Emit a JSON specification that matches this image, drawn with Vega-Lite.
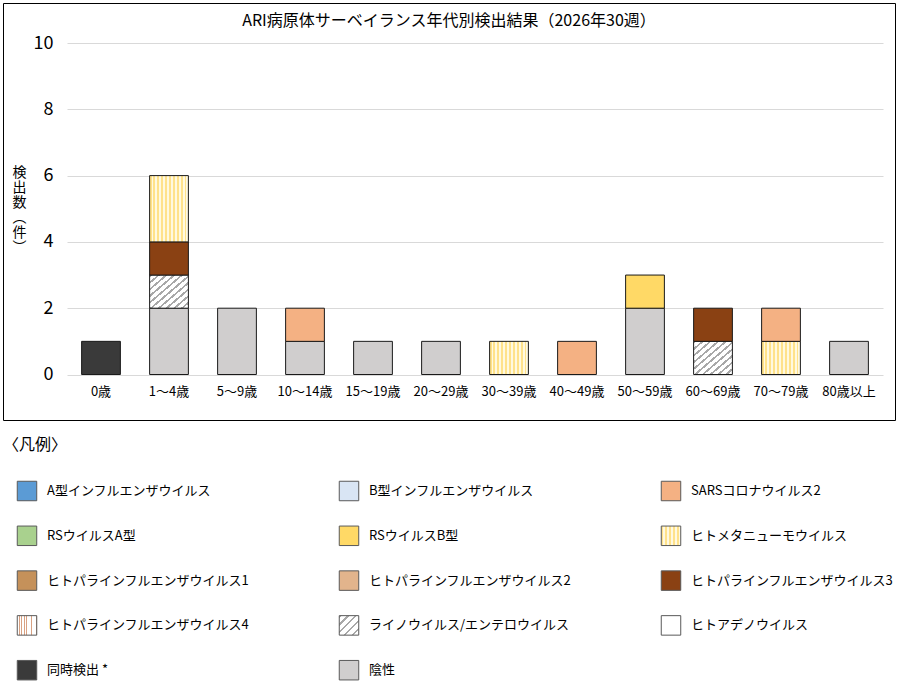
{
  "$schema": "https://vega.github.io/schema/vega-lite/v6.json",
  "padding": {"left": 2, "top": 2, "right": 3, "bottom": 0},
  "background": "white",
  "spacing": 16,
  "config": {
    "font": "Noto Sans CJK JP",
    "view": {"stroke": null}
  },
  "vconcat": [
    {
      "width": 892,
      "height": 417,
      "view": {"stroke": "#000", "strokeWidth": 1},
      "title": {
        "text": "ARI病原体サーベイランス年代別検出結果（2026年30週）",
        "fontSize": 16,
        "fontWeight": "normal",
        "color": "#000",
        "anchor": "middle",
        "frame": "group",
        "offset": -26
      },
      "data": {
        "values": [
          {"age": "0歳", "virus": "同時検出", "n": 1},
          {"age": "1～4歳", "virus": "陰性", "n": 2},
          {"age": "1～4歳", "virus": "ライノウイルス/エンテロウイルス", "n": 1},
          {"age": "1～4歳", "virus": "ヒトパラインフルエンザウイルス3", "n": 1},
          {"age": "1～4歳", "virus": "ヒトメタニューモウイルス", "n": 2},
          {"age": "5～9歳", "virus": "陰性", "n": 2},
          {"age": "10～14歳", "virus": "陰性", "n": 1},
          {"age": "10～14歳", "virus": "SARSコロナウイルス2", "n": 1},
          {"age": "15～19歳", "virus": "陰性", "n": 1},
          {"age": "20～29歳", "virus": "陰性", "n": 1},
          {"age": "30～39歳", "virus": "ヒトメタニューモウイルス", "n": 1},
          {"age": "40～49歳", "virus": "SARSコロナウイルス2", "n": 1},
          {"age": "50～59歳", "virus": "陰性", "n": 2},
          {"age": "50～59歳", "virus": "RSウイルスB型", "n": 1},
          {"age": "60～69歳", "virus": "ライノウイルス/エンテロウイルス", "n": 1},
          {"age": "60～69歳", "virus": "ヒトパラインフルエンザウイルス3", "n": 1},
          {"age": "70～79歳", "virus": "ヒトメタニューモウイルス", "n": 1},
          {"age": "70～79歳", "virus": "SARSコロナウイルス2", "n": 1},
          {"age": "80歳以上", "virus": "陰性", "n": 1}
        ]
      },
      "transform": [
        {
          "calculate": "indexof(['A型インフルエンザウイルス','B型インフルエンザウイルス','SARSコロナウイルス2','RSウイルスA型','RSウイルスB型','ヒトメタニューモウイルス','ヒトパラインフルエンザウイルス1','ヒトパラインフルエンザウイルス2','ヒトパラインフルエンザウイルス3','ヒトパラインフルエンザウイルス4','ライノウイルス/エンテロウイルス','ヒトアデノウイルス','同時検出','陰性'], datum.virus)",
          "as": "o"
        }
      ],
      "mark": {"type": "bar", "stroke": "#1a1a1a", "strokeWidth": 1},
      "encoding": {
        "x": {
          "field": "age",
          "type": "nominal",
          "sort": ["0歳", "1～4歳", "5～9歳", "10～14歳", "15～19歳", "20～29歳", "30～39歳", "40～49歳", "50～59歳", "60～69歳", "70～79歳", "80歳以上"],
          "scale": {"range": [64, 880], "paddingInner": 0.43, "paddingOuter": 0.215},
          "axis": {
            "title": null,
            "orient": "bottom",
            "offset": -45.5,
            "domain": false,
            "ticks": false,
            "tickSize": 0,
            "labelAngle": 0,
            "labelPadding": 11,
            "labelFontSize": 13,
            "labelColor": "#000"
          }
        },
        "y": {
          "field": "n",
          "type": "quantitative",
          "scale": {"domain": [0, 10], "range": [371.5, 40], "nice": false},
          "axis": {
            "values": [0, 2, 4, 6, 8, 10],
            "offset": -62,
            "domain": false,
            "ticks": false,
            "tickSize": 0,
            "labelPadding": 12,
            "labelFontSize": 18,
            "labelColor": "#000",
            "gridColor": "#d9d9d9",
            "gridWidth": 1,
            "title": ["検", "出", "数", "︵", "件", "︶"],
            "titleAngle": 0,
            "titleAlign": "center",
            "titleBaseline": "top",
            "titleX": -46,
            "titleY": 162,
            "titleFontSize": 14,
            "titleFontWeight": "normal",
            "titleLineHeight": 15,
            "titleColor": "#000"
          }
        },
        "color": {
          "field": "virus",
          "type": "nominal",
          "legend": null,
          "condition": [
            {
              "test": "datum.virus === 'ヒトメタニューモウイルス'",
              "value": {
                "gradient": "linear", "x1": 0, "y1": 0, "x2": 1, "y2": 0,
                "stops": [
                  {"offset": 0, "color": "#ffe28a"}, {"offset": 0.05, "color": "#ffe28a"}, {"offset": 0.05, "color": "#fff9e0"}, {"offset": 0.1, "color": "#fff9e0"},
                  {"offset": 0.1, "color": "#ffe28a"}, {"offset": 0.15, "color": "#ffe28a"}, {"offset": 0.15, "color": "#fff9e0"}, {"offset": 0.2, "color": "#fff9e0"},
                  {"offset": 0.2, "color": "#ffe28a"}, {"offset": 0.25, "color": "#ffe28a"}, {"offset": 0.25, "color": "#fff9e0"}, {"offset": 0.3, "color": "#fff9e0"},
                  {"offset": 0.3, "color": "#ffe28a"}, {"offset": 0.35, "color": "#ffe28a"}, {"offset": 0.35, "color": "#fff9e0"}, {"offset": 0.4, "color": "#fff9e0"},
                  {"offset": 0.4, "color": "#ffe28a"}, {"offset": 0.45, "color": "#ffe28a"}, {"offset": 0.45, "color": "#fff9e0"}, {"offset": 0.5, "color": "#fff9e0"},
                  {"offset": 0.5, "color": "#ffe28a"}, {"offset": 0.55, "color": "#ffe28a"}, {"offset": 0.55, "color": "#fff9e0"}, {"offset": 0.6, "color": "#fff9e0"},
                  {"offset": 0.6, "color": "#ffe28a"}, {"offset": 0.65, "color": "#ffe28a"}, {"offset": 0.65, "color": "#fff9e0"}, {"offset": 0.7, "color": "#fff9e0"},
                  {"offset": 0.7, "color": "#ffe28a"}, {"offset": 0.75, "color": "#ffe28a"}, {"offset": 0.75, "color": "#fff9e0"}, {"offset": 0.8, "color": "#fff9e0"},
                  {"offset": 0.8, "color": "#ffe28a"}, {"offset": 0.85, "color": "#ffe28a"}, {"offset": 0.85, "color": "#fff9e0"}, {"offset": 0.9, "color": "#fff9e0"},
                  {"offset": 0.9, "color": "#ffe28a"}, {"offset": 0.95, "color": "#ffe28a"}, {"offset": 0.95, "color": "#fff9e0"}, {"offset": 1, "color": "#fff9e0"}
                ]
              }
            },
            {
              "test": "datum.virus === 'ライノウイルス/エンテロウイルス'",
              "value": {
                "gradient": "linear", "x1": 0, "y1": 0, "x2": 1, "y2": 1,
                "stops": [
                  {"offset": 0, "color": "#a8a8a8"}, {"offset": 0.035, "color": "#a8a8a8"}, {"offset": 0.035, "color": "#ffffff"}, {"offset": 0.1, "color": "#ffffff"},
                  {"offset": 0.1, "color": "#a8a8a8"}, {"offset": 0.135, "color": "#a8a8a8"}, {"offset": 0.135, "color": "#ffffff"}, {"offset": 0.2, "color": "#ffffff"},
                  {"offset": 0.2, "color": "#a8a8a8"}, {"offset": 0.235, "color": "#a8a8a8"}, {"offset": 0.235, "color": "#ffffff"}, {"offset": 0.3, "color": "#ffffff"},
                  {"offset": 0.3, "color": "#a8a8a8"}, {"offset": 0.335, "color": "#a8a8a8"}, {"offset": 0.335, "color": "#ffffff"}, {"offset": 0.4, "color": "#ffffff"},
                  {"offset": 0.4, "color": "#a8a8a8"}, {"offset": 0.435, "color": "#a8a8a8"}, {"offset": 0.435, "color": "#ffffff"}, {"offset": 0.5, "color": "#ffffff"},
                  {"offset": 0.5, "color": "#a8a8a8"}, {"offset": 0.535, "color": "#a8a8a8"}, {"offset": 0.535, "color": "#ffffff"}, {"offset": 0.6, "color": "#ffffff"},
                  {"offset": 0.6, "color": "#a8a8a8"}, {"offset": 0.635, "color": "#a8a8a8"}, {"offset": 0.635, "color": "#ffffff"}, {"offset": 0.7, "color": "#ffffff"},
                  {"offset": 0.7, "color": "#a8a8a8"}, {"offset": 0.735, "color": "#a8a8a8"}, {"offset": 0.735, "color": "#ffffff"}, {"offset": 0.8, "color": "#ffffff"},
                  {"offset": 0.8, "color": "#a8a8a8"}, {"offset": 0.835, "color": "#a8a8a8"}, {"offset": 0.835, "color": "#ffffff"}, {"offset": 0.9, "color": "#ffffff"},
                  {"offset": 0.9, "color": "#a8a8a8"}, {"offset": 0.935, "color": "#a8a8a8"}, {"offset": 0.935, "color": "#ffffff"}, {"offset": 1, "color": "#ffffff"}
                ]
              }
            }
          ],
          "scale": {
            "domain": ["A型インフルエンザウイルス", "B型インフルエンザウイルス", "SARSコロナウイルス2", "RSウイルスA型", "RSウイルスB型", "ヒトメタニューモウイルス", "ヒトパラインフルエンザウイルス1", "ヒトパラインフルエンザウイルス2", "ヒトパラインフルエンザウイルス3", "ヒトパラインフルエンザウイルス4", "ライノウイルス/エンテロウイルス", "ヒトアデノウイルス", "同時検出", "陰性"],
            "range": ["#5b9bd5", "#d9e5f4", "#f4b183", "#a9d18e", "#ffd966", "#fff0b3", "#c5915a", "#e2b48c", "#8a4113", "#f1dccd", "#e4e4e4", "#ffffff", "#3a3a3a", "#d0cece"]
          }
        },
        "order": {"field": "o", "sort": "descending"}
      }
    },
    {
      "width": 892,
      "height": 227,
      "view": {"stroke": null},
      "title": {
        "text": "〈凡例〉",
        "fontSize": 16,
        "fontWeight": "normal",
        "color": "#000",
        "anchor": "start",
        "frame": "group",
        "offset": 4
      },
      "data": {
        "values": [
          {"virus": "A型インフルエンザウイルス"},
          {"virus": "B型インフルエンザウイルス"},
          {"virus": "SARSコロナウイルス2"},
          {"virus": "RSウイルスA型"},
          {"virus": "RSウイルスB型"},
          {"virus": "ヒトメタニューモウイルス"},
          {"virus": "ヒトパラインフルエンザウイルス1"},
          {"virus": "ヒトパラインフルエンザウイルス2"},
          {"virus": "ヒトパラインフルエンザウイルス3"},
          {"virus": "ヒトパラインフルエンザウイルス4"},
          {"virus": "ライノウイルス/エンテロウイルス"},
          {"virus": "ヒトアデノウイルス"},
          {"virus": "同時検出"},
          {"virus": "陰性"}
        ]
      },
      "transform": [
        {"window": [{"op": "row_number", "as": "i"}]},
        {"calculate": "(datum.i - 1) % 3", "as": "c"},
        {"calculate": "floor((datum.i - 1) / 3)", "as": "r"},
        {"calculate": "datum.virus === '同時検出' ? '同時検出 *' : datum.virus", "as": "lbl"}
      ],
      "encoding": {
        "x": {"field": "c", "type": "quantitative", "scale": {"domain": [0, 2], "range": [24, 668]}, "axis": null},
        "y": {"field": "r", "type": "quantitative", "scale": {"domain": [0, 4], "range": [34, 213.2]}, "axis": null}
      },
      "layer": [
        {
          "mark": {"type": "square", "size": 380, "filled": true, "opacity": 1, "stroke": "#595959", "strokeWidth": 1},
          "encoding": {
            "color": {
              "field": "virus",
              "type": "nominal",
              "legend": null,
              "condition": [
                {
                  "test": "datum.virus === 'ヒトメタニューモウイルス'",
                  "value": {
                    "gradient": "linear", "x1": 0, "y1": 0, "x2": 1, "y2": 0,
                    "stops": [
                      {"offset": 0, "color": "#ffe28a"}, {"offset": 0.1, "color": "#ffe28a"}, {"offset": 0.1, "color": "#fff9e0"}, {"offset": 0.2, "color": "#fff9e0"},
                      {"offset": 0.2, "color": "#ffe28a"}, {"offset": 0.3, "color": "#ffe28a"}, {"offset": 0.3, "color": "#fff9e0"}, {"offset": 0.4, "color": "#fff9e0"},
                      {"offset": 0.4, "color": "#ffe28a"}, {"offset": 0.5, "color": "#ffe28a"}, {"offset": 0.5, "color": "#fff9e0"}, {"offset": 0.6, "color": "#fff9e0"},
                      {"offset": 0.6, "color": "#ffe28a"}, {"offset": 0.7, "color": "#ffe28a"}, {"offset": 0.7, "color": "#fff9e0"}, {"offset": 0.8, "color": "#fff9e0"},
                      {"offset": 0.8, "color": "#ffe28a"}, {"offset": 0.9, "color": "#ffe28a"}, {"offset": 0.9, "color": "#fff9e0"}, {"offset": 1, "color": "#fff9e0"}
                    ]
                  }
                },
                {
                  "test": "datum.virus === 'ヒトパラインフルエンザウイルス4'",
                  "value": {
                    "gradient": "linear", "x1": 0, "y1": 0, "x2": 1, "y2": 0,
                    "stops": [
                      {"offset": 0, "color": "#ffffff"}, {"offset": 0.085, "color": "#ffffff"}, {"offset": 0.085, "color": "#d9a283"}, {"offset": 0.125, "color": "#d9a283"},
                      {"offset": 0.125, "color": "#ffffff"}, {"offset": 0.21, "color": "#ffffff"}, {"offset": 0.21, "color": "#d9a283"}, {"offset": 0.25, "color": "#d9a283"},
                      {"offset": 0.25, "color": "#ffffff"}, {"offset": 0.335, "color": "#ffffff"}, {"offset": 0.335, "color": "#d9a283"}, {"offset": 0.375, "color": "#d9a283"},
                      {"offset": 0.375, "color": "#ffffff"}, {"offset": 0.46, "color": "#ffffff"}, {"offset": 0.46, "color": "#d9a283"}, {"offset": 0.5, "color": "#d9a283"},
                      {"offset": 0.5, "color": "#ffffff"}, {"offset": 0.585, "color": "#ffffff"}, {"offset": 0.585, "color": "#d9a283"}, {"offset": 0.625, "color": "#d9a283"},
                      {"offset": 0.625, "color": "#ffffff"}, {"offset": 0.71, "color": "#ffffff"}, {"offset": 0.71, "color": "#d9a283"}, {"offset": 0.75, "color": "#d9a283"},
                      {"offset": 0.75, "color": "#ffffff"}, {"offset": 0.835, "color": "#ffffff"}, {"offset": 0.835, "color": "#d9a283"}, {"offset": 0.875, "color": "#d9a283"},
                      {"offset": 0.875, "color": "#ffffff"}, {"offset": 0.96, "color": "#ffffff"}, {"offset": 0.96, "color": "#d9a283"}, {"offset": 1, "color": "#d9a283"}
                    ]
                  }
                },
                {
                  "test": "datum.virus === 'ライノウイルス/エンテロウイルス'",
                  "value": {
                    "gradient": "linear", "x1": 0, "y1": 0, "x2": 1, "y2": 1,
                    "stops": [
                      {"offset": 0, "color": "#a8a8a8"}, {"offset": 0.06, "color": "#a8a8a8"}, {"offset": 0.06, "color": "#ffffff"}, {"offset": 0.2, "color": "#ffffff"},
                      {"offset": 0.2, "color": "#a8a8a8"}, {"offset": 0.26, "color": "#a8a8a8"}, {"offset": 0.26, "color": "#ffffff"}, {"offset": 0.4, "color": "#ffffff"},
                      {"offset": 0.4, "color": "#a8a8a8"}, {"offset": 0.46, "color": "#a8a8a8"}, {"offset": 0.46, "color": "#ffffff"}, {"offset": 0.6, "color": "#ffffff"},
                      {"offset": 0.6, "color": "#a8a8a8"}, {"offset": 0.66, "color": "#a8a8a8"}, {"offset": 0.66, "color": "#ffffff"}, {"offset": 0.8, "color": "#ffffff"},
                      {"offset": 0.8, "color": "#a8a8a8"}, {"offset": 0.86, "color": "#a8a8a8"}, {"offset": 0.86, "color": "#ffffff"}, {"offset": 1, "color": "#ffffff"}
                    ]
                  }
                }
              ],
              "scale": {
                "domain": ["A型インフルエンザウイルス", "B型インフルエンザウイルス", "SARSコロナウイルス2", "RSウイルスA型", "RSウイルスB型", "ヒトメタニューモウイルス", "ヒトパラインフルエンザウイルス1", "ヒトパラインフルエンザウイルス2", "ヒトパラインフルエンザウイルス3", "ヒトパラインフルエンザウイルス4", "ライノウイルス/エンテロウイルス", "ヒトアデノウイルス", "同時検出", "陰性"],
                "range": ["#5b9bd5", "#d9e5f4", "#f4b183", "#a9d18e", "#ffd966", "#fff0b3", "#c5915a", "#e2b48c", "#8a4113", "#f1dccd", "#e4e4e4", "#ffffff", "#3a3a3a", "#d0cece"]
              }
            }
          }
        },
        {
          "mark": {"type": "text", "align": "left", "baseline": "middle", "dx": 20, "fontSize": 13, "color": "#000"},
          "encoding": {"text": {"field": "lbl"}}
        }
      ]
    }
  ]
}
